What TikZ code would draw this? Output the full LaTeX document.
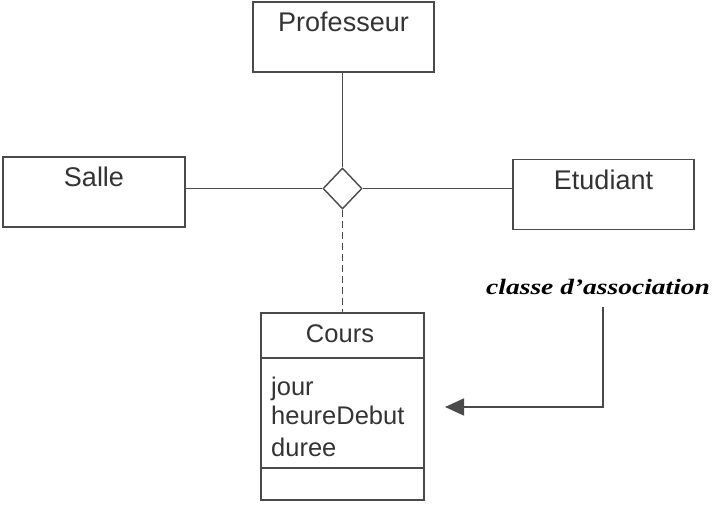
\documentclass[tikz,border=0pt]{standalone}
\usepackage{fontspec}
\setmainfont{Liberation Sans}
\newfontfamily\notefont[FakeStretch=1.25]{Liberation Serif}
\usetikzlibrary{shapes.geometric,arrows.meta}
\definecolor{umlline}{HTML}{4A4A4A}
\definecolor{umltext}{HTML}{333333}

\begin{document}
\begin{tikzpicture}[x=1pt, y=-1pt,
             every node/.style = {text=umltext, font=\fontsize{27}{30}\selectfont},
             cls/.style = {draw=umlline, line width=1.7pt, shape=rectangle, inner xsep=0pt,
                           inner ysep=6pt, text height=24pt, text depth=34pt, minimum width=182pt},
             attr/.style = {anchor=base west, inner sep=0pt, font=\fontsize{25.5}{30}\selectfont},
             link/.style = {draw=umlline, line width=1.5pt}]
\useasboundingbox (0,0) rectangle (717,513);

\node (prof) [cls, minimum width=181pt] at (343.5,37) {Professeur};
\node (salle) [cls] at (94,192) {Salle};
\node (etud) [cls, minimum width=181pt] at (603.5,194.5) {Etudiant};
\node (dia) [draw=umlline, line width=1.4pt, shape=diamond, inner sep=0pt,
             minimum width=39pt, minimum height=41pt] at (342.5,188.5) {};

\draw [link] (dia.north) -- (dia.north |- prof.south);
\draw [link] (dia.west) -- (dia.west -| salle.east);
\draw [link] (dia.east) -- (dia.east -| etud.west);

\node (cours) [draw=umlline, line width=1.7pt, shape=rectangle, inner sep=0pt,
               minimum width=163pt, minimum height=187pt] at (342.5,406.5) {};
\draw [link] ([yshift=-46pt]cours.north west) -- ([yshift=-46pt]cours.north east);
\draw [link] ([yshift=33pt]cours.south west) -- ([yshift=33pt]cours.south east);
\draw [link, dash pattern=on 7pt off 4pt] (dia.south) -- (cours.north);

\node (coursname) [anchor=base, inner sep=0pt, font=\fontsize{25.5}{30}\selectfont] at (340,342) {Cours};
\node (jour) [attr] at (271,395) {jour};
\node (heure) [attr] at (271,424) {heureDebut};
\node (duree) [attr] at (271,456) {duree};

\node (note) [anchor=base west, inner sep=0pt, text=black,
              font=\notefont\fontsize{22}{26}\selectfont\bfseries\itshape] at (486,294) {classe d’association};

\coordinate (arrtop) at (603,307);
\coordinate (arrcorner) at (603,407);
\coordinate (arrtip) at (445,407);
\draw [link, -{Triangle[length=19pt, width=17pt]}] (arrtop) -- (arrcorner) -- (arrtip);

\end{tikzpicture}
\end{document}
